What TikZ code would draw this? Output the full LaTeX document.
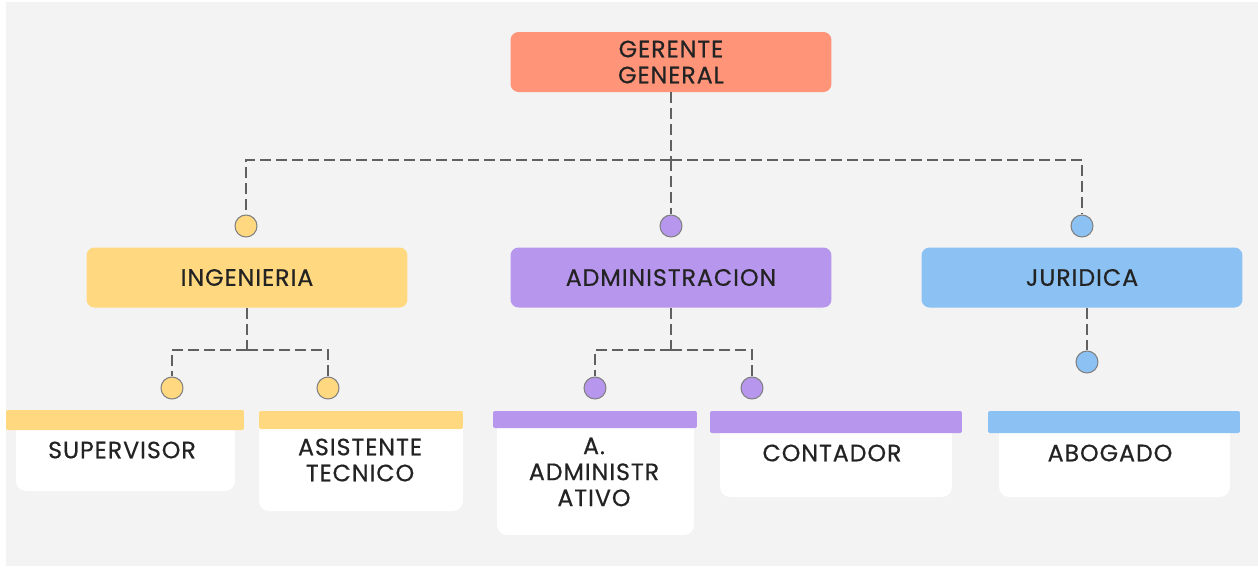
\documentclass[tikz,border=0pt]{standalone}
\usepackage{fontspec}
\setmainfont{Poppins}[LetterSpace=4, FakeBold=0.5]
\usepackage{tikz}
\usetikzlibrary{positioning, calc}
\definecolor{bggray}{HTML}{F3F3F3}
\definecolor{salmon}{HTML}{FF9478}
\definecolor{yelo}{HTML}{FFD880}
\definecolor{purp}{HTML}{B796EE}
\definecolor{bluu}{HTML}{8BC1F3}
\definecolor{ink}{HTML}{232323}
\definecolor{linegray}{HTML}{606060}

\begin{document}
\begin{tikzpicture}[x=0.02cm, y=-0.02cm,
    every node/.style={font=\fontsize{13.5}{14.8}\selectfont, text=ink, align=center},
    head/.style={rectangle, rounded corners=0.16cm, minimum width=6.42cm, minimum height=1.2cm, inner sep=0pt},
    card/.style={rectangle, rounded corners=0.2cm, fill=white, inner sep=0pt},
    bar/.style={rectangle, rounded corners=0.04cm, inner sep=0pt},
    dot/.style={circle, draw=linegray!80, line width=0.6pt, inner sep=0pt, minimum size=0.44cm},
    link/.style={draw=linegray, line width=1.4pt, dash pattern=on 0.22cm off 0.1cm}]

      % background
      \fill[white] (0, 0) rectangle (1258, 569);
      \fill[bggray] (6, 2) rectangle (1258, 566);

      % heads
      \node[head, fill=salmon] (ger) at (671, 62) {GERENTE\\GENERAL};
      \node[head, fill=yelo] (ing) at (247, 277.5) {INGENIERIA};
      \node[head, fill=purp] (adm) at (671, 277.5) {ADMINISTRACION};
      \node[head, fill=bluu] (jur) at (1082, 277.5) {JURIDICA};

      % cards
      \node[card, minimum width=4.38cm, minimum height=1.42cm] (supbox) at (125.5, 455.5) {};
      \node[bar, fill=yelo, minimum width=4.76cm, minimum height=0.4cm] (supbar) at (125, 420) {};
      \node (sup) at (122, 450) {SUPERVISOR};

      \node[card, minimum width=4.08cm, minimum height=1.84cm] (asibox) at (361, 465) {};
      \node[bar, fill=yelo, minimum width=4.08cm, minimum height=0.36cm] (asibar) at (361, 420) {};
      \node (asi) at (360, 460) {ASISTENTE\\TECNICO};

      \node[card, minimum width=3.94cm, minimum height=2.34cm] (aadbox) at (595.5, 476.5) {};
      \node[bar, fill=purp, minimum width=4.08cm, minimum height=0.34cm] (aadbar) at (595, 419.5) {};
      \node (aad) at (594, 472) {A.\\ADMINISTR\\ATIVO};

      \node[card, minimum width=4.64cm, minimum height=1.48cm] (conbox) at (836, 460) {};
      \node[bar, fill=purp, minimum width=5.04cm, minimum height=0.44cm] (conbar) at (836, 422) {};
      \node (con) at (832, 453) {CONTADOR};

      \node[card, minimum width=4.62cm, minimum height=1.48cm] (abobox) at (1114.5, 460) {};
      \node[bar, fill=bluu, minimum width=5.04cm, minimum height=0.44cm] (abobar) at (1114, 422) {};
      \node (abo) at (1110, 453) {ABOGADO};

      % dots
      \node[dot, fill=yelo] (dting) at (246, 226) {};
      \node[dot, fill=purp] (dtadm) at (671, 226) {};
      \node[dot, fill=bluu] (dtjur) at (1082, 226) {};
      \node[dot, fill=yelo] (dtsup) at (172, 388) {};
      \node[dot, fill=yelo] (dtasi) at (328, 388) {};
      \node[dot, fill=purp] (dtaad) at (595, 388) {};
      \node[dot, fill=purp] (dtcon) at (752, 388) {};
      \node[dot, fill=bluu] (dtabo) at (1087, 362) {};

      % junctions
      \coordinate (jtop) at (671, 160);
      \coordinate (jing) at (247, 350);
      \coordinate (jadm) at (671, 350);

      % links
      \draw[link] (ger.south) -- (jtop);
      \draw[link] (jtop) -| (dting.north);
      \draw[link] (jtop) -| (dtjur.north);
      \draw[link] (jtop) -- (dtadm.north);

      \draw[link] (ing.south) -- (jing);
      \draw[link] (jing) -| (dtsup.north);
      \draw[link] (jing) -| (dtasi.north);

      \draw[link] (adm.south) -- (jadm);
      \draw[link] (jadm) -| (dtaad.north);
      \draw[link] (jadm) -| (dtcon.north);

      \draw[link] (jur.south -| dtabo) -- (dtabo.north);

    \end{tikzpicture}
\end{document}
